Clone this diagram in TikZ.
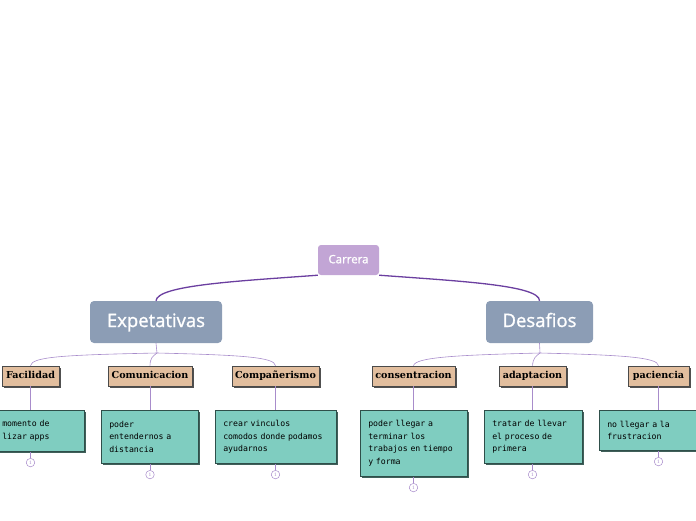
\documentclass[tikz,border=0pt]{standalone}
\usepackage{fontspec}
\setmainfont{DejaVu Serif}
\newfontfamily\headfont[FakeBold=1.2]{Open Sans}
\newfontfamily\labfont{DejaVu Serif}
\newfontfamily\monofont{DejaVu Sans Mono}
\usetikzlibrary{shadows,calc}
\definecolor{lilac}{HTML}{C2A5D5}
\definecolor{bluegray}{HTML}{8C9DB5}
\definecolor{tanc}{HTML}{E2BE9E}
\definecolor{tealc}{HTML}{7FCDC0}
\definecolor{labborder}{HTML}{4A4A4A}
\definecolor{labshadow}{HTML}{505050}
\definecolor{tbborder}{HTML}{2F4F4A}
\definecolor{tbshadow}{HTML}{40605A}
\definecolor{thickline}{HTML}{6B3FA0}
\definecolor{thinline}{HTML}{A88CCB}
\begin{document}
\begin{tikzpicture}[x=1pt,y=-1pt,
  root/.style={rounded corners=3pt, fill=lilac, text=white, font=\headfont\fontsize{11.5}{13}\selectfont, minimum width=61pt, minimum height=30pt, inner sep=0pt, text height=8.5pt, text depth=2pt},
  topic/.style={rounded corners=4pt, fill=bluegray, text=white, font=\headfont\fontsize{18.5}{20}\selectfont, minimum height=42pt, inner sep=0pt, text height=13pt, text depth=3pt},
  lab/.style={draw=labborder, line width=0.6pt, fill=tanc, font=\labfont\bfseries\fontsize{9.6}{11}\selectfont, minimum height=20pt, inner sep=0pt, text height=7pt, text depth=2pt,
    drop shadow={shadow xshift=2pt, shadow yshift=-2pt, fill=labshadow, opacity=1}},
  tbox/.style={draw=tbborder, line width=0.6pt, fill=tealc, font=\monofont\fontsize{8.2}{12.5}\selectfont, align=left, inner xsep=8pt, inner ysep=2pt, anchor=north west,
    drop shadow={shadow xshift=2pt, shadow yshift=-2pt, fill=tbshadow, opacity=1}},
  note/.style={circle, draw=thinline, fill=white, line width=0.5pt, inner sep=0pt, minimum size=8.5pt, font=\fontsize{4.5}{5}\selectfont, text=thinline},
  thick/.style={draw=thickline, line width=1.3pt},
  thin/.style={draw=thinline, line width=0.6pt}
]
\clip (0,0) rectangle (696,520);

% central and main topics
\node[root] (car) at (348.5,260) {Carrera};
\node[topic, minimum width=132pt] (exp) at (156,322) {Expetativas};
\node[topic, minimum width=107pt] (des) at (539.5,322) {Desafios};

\draw[thick] (car.south west) .. controls (240,281) and (157,285) .. (exp.north);
\draw[thick] (car.south east) .. controls (457,281) and (540,285) .. (des.north);

% labels
\node[lab, minimum width=57pt] (fac) at (30.5,376) {Facilidad};
\node[lab, minimum width=84pt] (com) at (150,376) {Comunicacion};
\node[lab, minimum width=87pt] (comp) at (275.5,376) {Compañerismo};
\node[lab, minimum width=83pt] (cons) at (413.5,376) {consentracion};
\node[lab, minimum width=67pt] (ada) at (532.5,376) {adaptacion};
\node[lab, minimum width=61pt] (pac) at (658.5,376) {paciencia};

% branches
\coordinate (eb) at (157,353);
\coordinate (db) at (540,353);
\draw[thin] (exp.south) -- (eb);
\draw[thin] (eb) .. controls (60,355) and (32,357) .. (fac.north);
\draw[thin] (eb) .. controls (153,356) and (150,358) .. (com.north);
\draw[thin] (eb) .. controls (240,355) and (275,357) .. (comp.north);
\draw[thin] (des.south) -- (db);
\draw[thin] (db) .. controls (460,355) and (415,357) .. (cons.north);
\draw[thin] (db) .. controls (536,356) and (533,358) .. (ada.north);
\draw[thin] (db) .. controls (620,355) and (658,357) .. (pac.north);

% text boxes
\node[tbox, text width=74pt, minimum height=41pt] (ft) at (-6,410) {momento de\\lizar apps};
\node[tbox, text width=81pt, minimum height=53pt] (ct) at (101,410) {poder\\entendernos a\\distancia};
\node[tbox, text width=105pt, minimum height=53pt] (pt) at (215,410) {crear vinculos\\comodos donde podamos\\ayudarnos};
\node[tbox, text width=91pt, minimum height=66pt] (cst) at (360,410) {poder llegar a\\terminar los\\trabajos en tiempo\\y forma};
\node[tbox, text width=82pt, minimum height=53pt] (at) at (484,410) {tratar de llevar\\el proceso de\\primera};
\node[tbox, text width=94pt, minimum height=40pt] (pat) at (599,410) {no llegar a la\\frustracion};

% label to text connectors
\draw[thin] (fac.south) -- (fac.south |- ft.north);
\draw[thin] (com.south) -- (com.south |- ct.north);
\draw[thin] (comp.south) -- (comp.south |- pt.north);
\draw[thin] (cons.south) -- (cons.south |- cst.north);
\draw[thin] (ada.south) -- (ada.south |- at.north);
\draw[thin] (pac.south) -- (pac.south |- pat.north);

% note circles
\node[note] (n1) at ($(fac.south |- ft.south)+(0,11)$) {1};
\node[note] (n2) at ($(com.south |- ct.south)+(0,11)$) {1};
\node[note] (n3) at ($(comp.south |- pt.south)+(0,11)$) {1};
\node[note] (n4) at ($(cons.south |- cst.south)+(0,11)$) {1};
\node[note] (n5) at ($(ada.south |- at.south)+(0,11)$) {1};
\node[note] (n6) at ($(pac.south |- pat.south)+(0,11)$) {1};
\draw[thin] (n1) -- (fac.south |- ft.south);
\draw[thin] (n2) -- (com.south |- ct.south);
\draw[thin] (n3) -- (comp.south |- pt.south);
\draw[thin] (n4) -- (cons.south |- cst.south);
\draw[thin] (n5) -- (ada.south |- at.south);
\draw[thin] (n6) -- (pac.south |- pat.south);
\end{tikzpicture}
\end{document}
